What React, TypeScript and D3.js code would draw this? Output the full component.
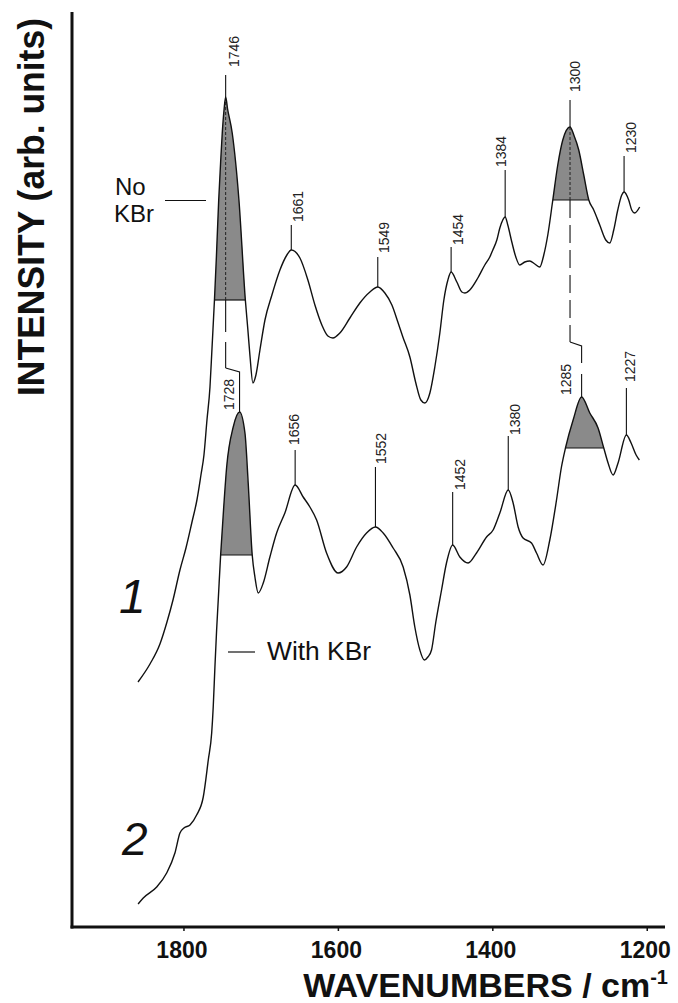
import React from 'react';
import * as d3 from 'd3';

// spectra: [wavenumber (cm-1), intensity (arb. units)]
const noKbr: [number, number][] = [
  [1859.5, 24.5], [1844.0, 26.3], [1831.1, 28.3], [1822.0, 30.5], [1814.2, 32.7], [1805.2, 35.7],
  [1797.4, 37.9], [1789.6, 40.5], [1783.2, 42.7], [1778.0, 45.2], [1774.1, 47.2], [1770.2, 50.7],
  [1766.3, 54.0], [1763.8, 57.7], [1760.5, 62.7], [1758.0, 67.0], [1755.0, 72.7], [1752.5, 76.5],
  [1750.4, 79.4], [1748.0, 81.8], [1746, 83.0], [1743.5, 81.8], [1737.5, 79.4], [1728.8, 72.7],
  [1720.5, 62.7], [1717.2, 59.7], [1714.6, 57.2], [1710.7, 54.4], [1706.8, 55.2], [1701.6, 57.7],
  [1695.1, 60.7], [1686.1, 63.2], [1675.7, 65.7], [1666.7, 67.2], [1661, 67.7], [1649.8, 66.9],
  [1639.5, 64.7], [1630.4, 62.2], [1621.4, 60.2], [1613.6, 59.1], [1607.1, 58.9], [1598.1, 59.4],
  [1585.1, 60.9], [1572.2, 62.4], [1559.2, 63.5], [1549, 64.0], [1539.8, 63.4], [1530.7, 62.2],
  [1523.0, 60.5], [1516.5, 59.0], [1507.4, 57.0], [1499.7, 54.4], [1493.2, 52.7], [1488.0, 52.4],
  [1481.5, 53.4], [1475.1, 56.0], [1468.6, 59.4], [1463.4, 62.7], [1458.2, 64.7], [1454, 65.5],
  [1446.6, 64.5], [1440.1, 63.5], [1436.2, 63.4], [1429.8, 63.7], [1419.4, 64.9], [1410.4, 66.2],
  [1403.9, 67.0], [1400.0, 67.7], [1394.8, 68.7], [1390.9, 69.9], [1384, 71.0], [1380.6, 70.2],
  [1375.4, 68.5], [1370.2, 67.0], [1365.1, 66.2], [1358.6, 66.5], [1352.1, 66.6], [1345.6, 66.3],
  [1339.2, 66.0], [1334.0, 67.2], [1328.8, 69.2], [1322.3, 72.7], [1315.9, 76.2], [1309.4, 78.7],
  [1300, 80.0], [1295.1, 79.2], [1288.7, 77.7], [1282.2, 75.2], [1275.7, 72.7], [1269.3, 71.7],
  [1261.5, 70.2], [1253.7, 68.7], [1248.5, 68.4], [1243.4, 69.7], [1238.2, 71.7], [1233.0, 73.2],
  [1230, 73.5], [1224.0, 72.7], [1220.1, 71.7], [1216.3, 71.4], [1209.8, 72.0],
];

const withKbr: [number, number][] = [
  [1859.4, 2.3], [1852.7, 2.9], [1835.3, 4.0], [1822.4, 5.4], [1811.7, 7.4], [1805.2, 9.4],
  [1800.0, 9.9], [1792.2, 10.2], [1783.6, 11.2], [1775.0, 13.0], [1768.5, 16.7], [1764.1, 19.4],
  [1762.1, 22.0], [1759.9, 26.0], [1757.7, 29.7], [1755.6, 32.7], [1752.5, 37.2], [1748.5, 42.0],
  [1744.7, 46.0], [1736.2, 50.0], [1728, 51.5], [1721.0, 49.4], [1716.8, 44.4], [1711.6, 37.2],
  [1708.1, 35.0], [1703.8, 33.4], [1697.3, 34.4], [1688.7, 37.0], [1680.0, 39.4], [1669.3, 41.4],
  [1656, 44.2], [1645.6, 43.0], [1636.9, 42.0], [1628.2, 40.7], [1615.3, 37.4], [1600.3, 35.4],
  [1589.4, 36.0], [1576.4, 38.0], [1563.5, 39.4], [1552, 40.0], [1542.0, 39.4], [1529.1, 37.9],
  [1516.1, 36.0], [1507.4, 33.2], [1501.0, 30.0], [1494.5, 27.7], [1488.7, 26.7], [1484.1, 27.0],
  [1479.4, 27.7], [1473.8, 30.5], [1466.4, 33.7], [1460.0, 36.4], [1452, 38.2], [1442.7, 37.0],
  [1432.0, 36.4], [1421.1, 37.4], [1408.1, 39.0], [1399.6, 39.7], [1390.9, 41.4], [1380, 43.7],
  [1373.7, 42.4], [1367.2, 40.0], [1360.8, 38.9], [1349.9, 38.4], [1343.4, 37.4], [1334.9, 36.2],
  [1326.2, 38.7], [1317.5, 42.7], [1311.1, 46.0], [1305.9, 47.9], [1296.0, 50.7], [1285, 53.0],
  [1274.4, 51.4], [1263.7, 49.9], [1256.3, 47.9], [1250.7, 46.4], [1244.2, 45.2], [1237.8, 46.4],
  [1227, 49.2], [1220.9, 48.4], [1214.4, 47.2], [1210.2, 46.7],
];

const noKbrPeaks = [1746, 1661, 1549, 1454, 1384, 1300, 1230];
const withKbrPeaks = [1728, 1656, 1552, 1452, 1380, 1285, 1227];

// shaded peaks and the intensity where the shading stops
const shadedNoKbr = [1746, 1300];
const shadeBaseNoKbr = [62.7, 72.7];
const shadedWithKbr = [1728, 1285];
const shadeBaseWithKbr = [37.2, 47.9];
// intensity of the little jog in the line joining the shifted peaks
const jogLevel = [55.9, 58.5];

const xTicks = [1800, 1600, 1400, 1200];

// label placement: tick length (px), label lift above peak (px), baseline offset (px)
const labelLayout: Record<number, { tick: number; lift: number; dx: number }> = {
  1746: { tick: 22, lift: 30, dx: 13 },
  1661: { tick: 25, lift: 28, dx: 12 },
  1549: { tick: 30, lift: 34, dx: 11 },
  1454: { tick: 25, lift: 27, dx: 12 },
  1384: { tick: 47, lift: 50, dx: 1 },
  1300: { tick: 27, lift: 35, dx: 10 },
  1230: { tick: 36, lift: 39, dx: 12 },
  1728: { tick: 0, lift: 2, dx: -6 },
  1656: { tick: 35, lift: 40, dx: 4 },
  1552: { tick: 60, lift: 63, dx: 11 },
  1452: { tick: 53, lift: 55, dx: 12 },
  1380: { tick: 54, lift: 55, dx: 12 },
  1285: { tick: 0, lift: 2, dx: -11 },
  1227: { tick: 47, lift: 53, dx: 9 },
};

const W = 678, H = 1003;
const left = 72, right = 665, top = 12, bottom = 927;
const font = "'Liberation Sans', Arial, Helvetica, sans-serif";

const x = d3.scaleLinear().domain([1945, 1177]).range([left, right]);
const y = d3.scaleLinear().domain([0, 91.5]).range([bottom, top]);

const line = d3.line<[number, number]>()
  .x(d => x(d[0]))
  .y(d => y(d[1]))
  .curve(d3.curveMonotoneX);

function valueAt(series: [number, number][], w: number) {
  for (let i = 0; i < series.length - 1; i++) {
    const a = series[i], b = series[i + 1];
    if (w <= a[0] && w >= b[0]) {
      const t = (a[0] - w) / (a[0] - b[0]);
      return a[1] + t * (b[1] - a[1]);
    }
  }
  return series[series.length - 1][1];
}

// part of the peak above the base level, with the crossings interpolated
function peakCap(series: [number, number][], peak: number, base: number) {
  const k = series.findIndex(d => d[0] === peak);
  let i = k, j = k;
  while (i > 0 && series[i - 1][1] >= base) i--;
  while (j < series.length - 1 && series[j + 1][1] >= base) j++;
  const cross = (a: [number, number], b: [number, number]): [number, number] => {
    const t = (base - a[1]) / (b[1] - a[1]);
    return [a[0] + t * (b[0] - a[0]), base];
  };
  const pts: [number, number][] = [];
  if (i > 0) pts.push(cross(series[i - 1], series[i]));
  for (let n = i; n <= j; n++) pts.push(series[n]);
  if (j < series.length - 1) pts.push(cross(series[j + 1], series[j]));
  return pts;
}

const area = d3.area<[number, number]>()
  .x(d => x(d[0]))
  .y1(d => y(d[1]))
  .curve(d3.curveMonotoneX);

function Shade({ series, peak, base, dashed }: { series: [number, number][]; peak: number; base: number; dashed: boolean }) {
  const pts = peakCap(series, peak, base);
  const by = y(base);
  return (
    <g>
      <path d={area.y0(by)(pts) || ''} fill="#8a8a8a" stroke="none" />
      <line x1={x(pts[0][0])} x2={x(pts[pts.length - 1][0])} y1={by} y2={by} stroke="#111" strokeWidth={1.2} />
      {dashed && (
        <line x1={x(peak)} x2={x(peak)} y1={y(valueAt(series, peak))} y2={by}
          stroke="#222" strokeWidth={1} strokeDasharray="3,2" />
      )}
    </g>
  );
}

function PeakLabels({ series, peaks }: { series: [number, number][]; peaks: number[] }) {
  return (
    <g>
      {peaks.map(p => {
        const lay = labelLayout[p];
        const px = x(p), py = y(valueAt(series, p));
        return (
          <g key={p}>
            {lay.tick > 0 && <line x1={px} x2={px} y1={py} y2={py - lay.tick} stroke="#111" strokeWidth={1.1} />}
            <text transform={`translate(${px + lay.dx},${py - lay.lift}) rotate(-90)`}
              fontFamily={font} fontSize={14} fill="#222">{p}</text>
          </g>
        );
      })}
    </g>
  );
}

// dropped line from the No KBr peak to the shifted With KBr peak
function Shift({ i }: { i: number }) {
  const from = shadedNoKbr[i], to = shadedWithKbr[i];
  const x1 = x(from), x2 = x(to);
  const yBase = y(shadeBaseNoKbr[i]);
  const yJog = y(jogLevel[i]);
  const yEnd = y(valueAt(withKbr, to));
  const jog = Math.hypot(x2 - x1, 4);
  const upper = i === 0 ? '32,10,400' : '18,7';
  const lower = i === 0 ? 'none' : `${jog + 17},11,400`;
  return (
    <g stroke="#111" strokeWidth={1.1} fill="none">
      <path d={`M${x1},${yBase}V${yJog}`} strokeDasharray={upper} />
      <path d={`M${x1},${yJog}L${x2},${yJog + 4}V${yEnd}`} strokeDasharray={lower} />
    </g>
  );
}

export default function App() {
  return (
    <svg width={W} height={H} style={{ position: 'absolute', left: 0, top: 0, background: '#fff' }}>
      <rect width={W} height={H} fill="#fff" />

      {shadedNoKbr.map((p, i) => <Shade key={p} series={noKbr} peak={p} base={shadeBaseNoKbr[i]} dashed />)}
      {shadedWithKbr.map((p, i) => <Shade key={p} series={withKbr} peak={p} base={shadeBaseWithKbr[i]} dashed={false} />)}
      {shadedNoKbr.map((p, i) => <Shift key={p} i={i} />)}

      <path d={line(noKbr) || ''} fill="none" stroke="#111" strokeWidth={1.4} />
      <path d={line(withKbr) || ''} fill="none" stroke="#111" strokeWidth={1.4} />

      <PeakLabels series={noKbr} peaks={noKbrPeaks} />
      <PeakLabels series={withKbr} peaks={withKbrPeaks} />

      {/* series labels */}
      <text x={115} y={195} fontFamily={font} fontSize={24} fill="#111">No</text>
      <text x={114} y={222} fontFamily={font} fontSize={24} fill="#111">KBr</text>
      <line x1={165} x2={206} y1={200.5} y2={200.5} stroke="#111" strokeWidth={1.2} />
      <line x1={228} x2={255} y1={652} y2={652} stroke="#111" strokeWidth={1.2} />
      <text x={267} y={660} fontFamily={font} fontSize={25} fill="#111"
        textLength={104} lengthAdjust="spacingAndGlyphs">With KBr</text>
      <text x={119} y={613} fontFamily={font} fontSize={48} fontStyle="italic" fill="#111">1</text>
      <text x={122} y={855} fontFamily={font} fontSize={46} fontStyle="italic" fill="#111">2</text>

      {/* axes */}
      <line x1={left} x2={left} y1={top} y2={bottom + 1.5} stroke="#111" strokeWidth={3} />
      <line x1={left - 1.5} x2={right} y1={bottom} y2={bottom} stroke="#111" strokeWidth={3} />
      {xTicks.map(t => (
        <g key={t}>
          <line x1={x(t)} x2={x(t)} y1={bottom} y2={bottom + 4} stroke="#111" strokeWidth={1.5} />
          <text x={x(t) - 2} y={958} textAnchor="middle" fontFamily={font} fontWeight="bold"
            fontSize={23} fill="#111">{t}</text>
        </g>
      ))}
      <text x={668} y={997} textAnchor="end" fontFamily={font} fontWeight="bold" fontSize={34} fill="#111">
        WAVENUMBERS / cm<tspan dy={-13} fontSize={20}>-1</tspan>
      </text>
      <text transform="translate(44,207) rotate(-90)" textAnchor="middle" fontFamily={font}
        fontWeight="bold" fontSize={36} fill="#111" textLength={378} lengthAdjust="spacingAndGlyphs">
        INTENSITY (arb. units)
      </text>
    </svg>
  );
}
